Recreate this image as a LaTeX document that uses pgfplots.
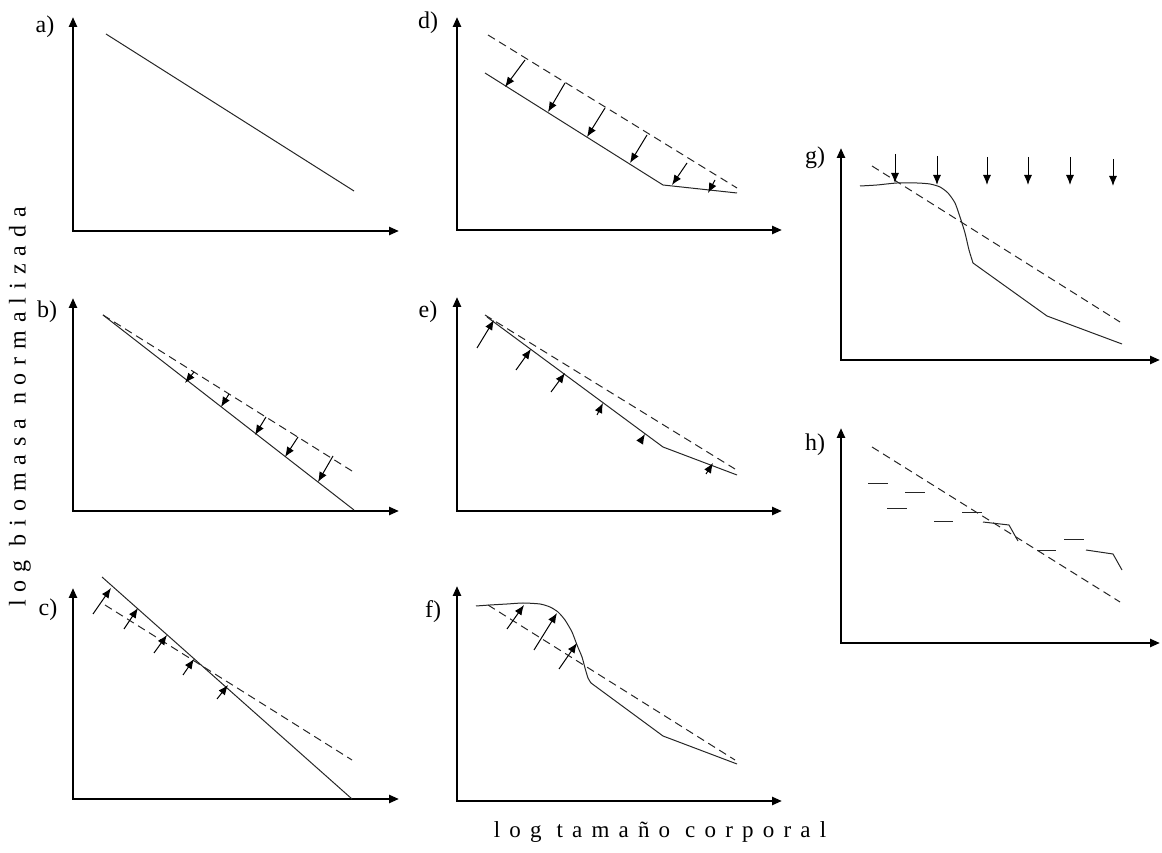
\documentclass[border=0pt]{standalone}
\usepackage{fontspec}
\setmainfont{Liberation Serif}
\newfontfamily\spacedh[LetterSpace=40]{Liberation Serif}
\newfontfamily\spacedv[LetterSpace=33]{Liberation Serif}
\usepackage{pgfplots}
\pgfplotsset{compat=1.18}
\usetikzlibrary{arrows.meta}
\tikzset{lab/.style={font=\fontsize{12}{14}\selectfont}}
\pgfplotsset{
  panel/.style={
    x=0.5pt, y=0.5pt, axis lines=left, xtick=\empty, ytick=\empty,
    enlargelimits=false, clip=false, anchor=south west,
    axis line style={line width=1.2pt, line cap=rect, -{Triangle[length=5pt,width=4pt]}},
  },
  sol/.style={black!85, line width=0.5pt, mark=none},
  das/.style={black!85, line width=0.5pt, mark=none, dash pattern=on 4pt off 2.5pt},
  arr/.style={black, line width=0.5pt, mark=none, -{Latex[length=5pt,width=4pt]},
    quiver={u=\thisrow{xe}-\thisrow{x}, v=\thisrow{ye}-\thisrow{y}}},
}
\begin{document}
\begin{tikzpicture}
\useasboundingbox (0,0) rectangle (581pt,426pt);
% axis titles
\node[rotate=90, font=\fontsize{12}{14}\spacedv] at (10pt,222.5pt) {log biomasa normalizada};
\node[anchor=base, font=\fontsize{11.5}{13}\spacedh] at (330pt,7.5pt) {log tamaño corporal};

% a)
\begin{axis}[panel, at={(36.5pt,310.5pt)}, xmin=73, xmax=399, ymin=621, ymax=835]
\addplot[sol] coordinates {(106,818) (354,661)};
\node[lab] at (axis cs:45,825) {a)};
\end{axis}

% d)
\begin{axis}[panel, at={(228.5pt,311pt)}, xmin=457, xmax=782, ymin=622, ymax=835]
\addplot[das] coordinates {(488,817) (737,664)};
\addplot[sol] coordinates {(485,779) (663,667) (737,659)};
\addplot[arr] table {
x y xe ye
525 792 505 765
565 769 548 740
605 744 587 715
647 717 630 689
687 689 672 667
715 672 708 659
};
\node[lab] at (axis cs:428,829) {d)};
\end{axis}

% b)
\begin{axis}[panel, at={(36.5pt,170.5pt)}, xmin=73, xmax=399, ymin=341, ymax=554]
\addplot[das] coordinates {(103,537) (352,381)};
\addplot[sol] coordinates {(103,537) (354,342)};
\addplot[arr] table {
x y xe ye
194 480 185 469
229 458 221 445
266 435 255 417
298 415 285 395
333 396 318 370
};
\node[lab] at (axis cs:47,540) {b)};
\end{axis}

% e)
\begin{axis}[panel, at={(228.5pt,170.5pt)}, xmin=457, xmax=782, ymin=341, ymax=555]
\addplot[das] coordinates {(485,537) (735,383)};
\addplot[sol] coordinates {(487,535) (663,405) (737,377)};
\addplot[arr] table {
x y xe ye
477 504 494 532
516 482 531 503
551 460 565 479
597 437 603 449
640 410 645 418
706 378 713 389
};
\node[lab] at (axis cs:428,540) {e)};
\end{axis}

% c)
\begin{axis}[panel, at={(36.5pt,26.5pt)}, xmin=73, xmax=399, ymin=53, ymax=264]
\addplot[sol] coordinates {(102,275) (352,53)};
\addplot[das] coordinates {(105,247) (352,92)};
\addplot[arr] table {
x y xe ye
93 238 111 264
124 223 138 244
154 199 167 217
183 177 194 193
217 153 228 167
};
\node[lab] at (axis cs:48,242) {c)};
\end{axis}

% f)
\begin{axis}[panel, at={(228.5pt,25.5pt)}, xmin=457, xmax=782, ymin=51, ymax=266]
\addplot[das] coordinates {(488,247) (735,92)};
\addplot[sol, smooth, tension=0.4] coordinates {(476,246) (490,247) (507,248) (523,249) (540,248) (550,245) (558,240) (565,232) (572,220) (577,207) (582,195) (585,184) (588,174) (591,169)};
\addplot[sol] coordinates {(591,169) (663,116) (737,88)};
\addplot[arr] table {
x y xe ye
507 223 524 247
534 202 557 239
559 183 577 209
};
\node[lab] at (axis cs:433,240) {f)};
\end{axis}

% g)
\begin{axis}[panel, at={(420.5pt,246pt)}, xmin=841, xmax=1160, ymin=492, ymax=704]
\addplot[das] coordinates {(872,686) (1120,530)};
\addplot[sol, smooth, tension=0.4] coordinates {(860,666) (877,667) (897,669) (917,669) (930,668) (940,665) (948,659) (955,649) (960,635) (965,619) (969,602) (973,589)};
\addplot[sol] coordinates {(973,589) (1047,536) (1122,508)};
\addplot[arr] table {
x y xe ye
895 698 895 669
937 696 937 667
987 695 987 667
1028 695 1028 667
1070 695 1070 667
1113 693 1113 666
};
\node[lab] at (axis cs:815,694) {g)};
\end{axis}

% h)
\begin{axis}[panel, at={(420.5pt,104.5pt)}, xmin=841, xmax=1160, ymin=209, ymax=424]
\addplot[das] coordinates {(872,405) (1120,250)};
\addplot[sol] coordinates {(868,368) (888,368)};
\addplot[sol] coordinates {(905,359) (925,359)};
\addplot[sol] coordinates {(887,343) (907,343)};
\addplot[sol] coordinates {(934,331) (953,331)};
\addplot[sol] coordinates {(962,340) (982,340)};
\addplot[sol] coordinates {(983,330) (1009,327) (1018,311)};
\addplot[sol] coordinates {(1037,302) (1056,302)};
\addplot[sol] coordinates {(1064,313) (1084,313)};
\addplot[sol] coordinates {(1086,302) (1113,298) (1122,282)};
\node[lab] at (axis cs:815,407) {h)};
\end{axis}
\end{tikzpicture}
\end{document}
